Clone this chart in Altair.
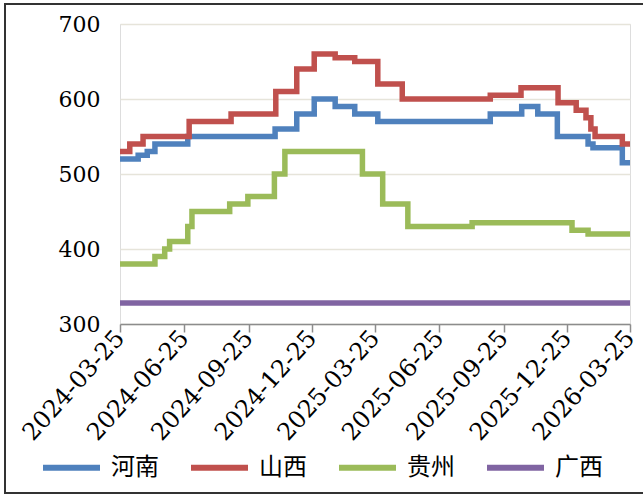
import altair as alt
import pandas as pd

# Step-series: date of each price change and the new level
henan_dates = ["2024-03-25", "2024-04-20", "2024-05-03", "2024-05-14", "2024-06-30",
               "2024-11-02", "2024-12-03", "2024-12-28", "2025-01-27", "2025-02-24",
               "2025-03-29", "2025-09-06", "2025-10-21", "2025-11-13", "2025-12-11",
               "2026-01-24", "2026-01-31", "2026-03-14", "2026-03-25"]
henan_values = [520, 525, 530, 540, 550, 560, 580, 600, 590, 580,
                570, 580, 590, 580, 550, 540, 535, 515, 515]

shanxi_dates = ["2024-03-25", "2024-04-08", "2024-04-27", "2024-07-02", "2024-08-31",
                "2024-11-03", "2024-12-03", "2024-12-28", "2025-01-27", "2025-02-24",
                "2025-03-29", "2025-05-03", "2025-09-06", "2025-10-20", "2025-12-12",
                "2026-01-07", "2026-01-21", "2026-01-28", "2026-02-03", "2026-03-14",
                "2026-03-25"]
shanxi_values = [530, 540, 550, 570, 580, 610, 640, 660, 655, 650,
                 620, 600, 605, 615, 595, 585, 575, 560, 550, 540, 540]

guizhou_dates = ["2024-03-25", "2024-05-14", "2024-05-28", "2024-06-04", "2024-06-30",
                 "2024-07-06", "2024-08-29", "2024-09-24", "2024-11-01", "2024-11-16",
                 "2025-03-07", "2025-04-05", "2025-05-11", "2025-08-11", "2026-01-01",
                 "2026-01-24", "2026-03-25"]
guizhou_values = [380, 390, 400, 410, 430, 450, 460, 470, 500, 530,
                  500, 460, 430, 435, 425, 420, 420]

guangxi_dates = ["2024-03-25", "2026-03-25"]
guangxi_values = [328, 328]

regions = ["河南", "山西", "贵州", "广西"]
colors = ["#4F81BD", "#C0504D", "#9BBB59", "#8064A2"]

tick_dates = [(2024, 3), (2024, 6), (2024, 9), (2024, 12), (2025, 3),
              (2025, 6), (2025, 9), (2025, 12), (2026, 3)]

frames = []
for name, d, v in zip(regions,
                      [henan_dates, shanxi_dates, guizhou_dates, guangxi_dates],
                      [henan_values, shanxi_values, guizhou_values, guangxi_values]):
    frames.append(pd.DataFrame({"date": d, "price": v, "region": name}))
df = pd.concat(frames, ignore_index=True)

serif = "DejaVu Serif"

x_axis = alt.Axis(
    values=[alt.DateTime(year=y, month=m, date=25, utc=True) for y, m in tick_dates],
    format="%Y-%m-%d", labelAngle=-48, labelAlign="right", labelBaseline="middle",
    labelFont=serif, labelFontSize=24, labelColor="black", labelPadding=2,
    domainColor="#8c8c8c", domainWidth=1.5, tickColor="#8c8c8c", tickWidth=1.5,
    tickSize=8, grid=False, title=None, labelOverlap=False, labelFlush=False,
)
y_axis = alt.Axis(
    values=[300, 400, 500, 600, 700], labelFont=serif, labelFontSize=22,
    labelColor="black", labelPadding=20, ticks=False, domain=False,
    gridColor="#e6e4da", gridWidth=1.5, title=None,
)

lines = alt.Chart(df).mark_line(interpolate="step-after", strokeWidth=5.5).encode(
    x=alt.X("date:T", axis=x_axis,
            scale=alt.Scale(type="utc", nice=False,
                            domain=[alt.DateTime(year=2024, month=3, date=25, utc=True),
                                    alt.DateTime(year=2026, month=3, date=25, utc=True)])),
    y=alt.Y("price:Q", axis=y_axis, scale=alt.Scale(domain=[300, 700], nice=False, zero=False)),
    color=alt.Color(
        "region:N", scale=alt.Scale(domain=regions, range=colors),
        legend=alt.Legend(
            orient="none", legendX=-80, legendY=412, direction="horizontal",
            title=None, symbolType="stroke", symbolSize=3249, symbolStrokeWidth=6,
            labelFont="Noto Sans CJK SC", labelFontSize=24, labelColor="black",
            labelOffset=8, columnPadding=20,
        ),
    ),
    order=alt.Order("region:N"),
)

# thin outer frame around the whole figure
frame = alt.Chart(pd.DataFrame({"k": [0]})).mark_rect(
    fill=None, stroke="#333333", strokeWidth=2, clip=False
).encode(x=alt.value(-115), x2=alt.value(540), y=alt.value(-20), y2=alt.value(469))

chart = alt.layer(lines, frame).properties(
    width=510, height=300,
    autosize=alt.AutoSizeParams(type="none"),
    padding={"left": 120, "top": 24, "right": 13, "bottom": 172},
).configure_view(stroke=None).configure(background="white")

chart.save("out.html", embed_options={"renderer": "svg", "actions": False})
